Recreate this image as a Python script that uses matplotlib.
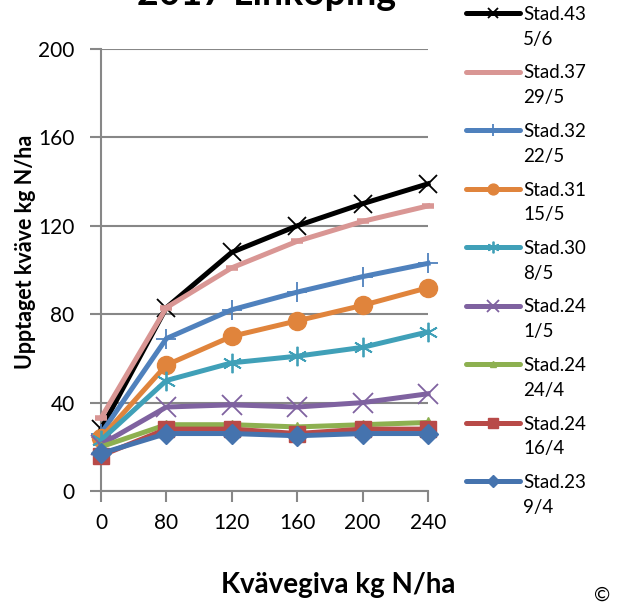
import matplotlib
matplotlib.use('Agg')
import matplotlib.pyplot as plt
from matplotlib.lines import Line2D

plt.rcParams['font.family'] = ['Lato', 'DejaVu Sans']

# data (kg N/ha taken up)
categories = ['0', '80', '120', '160', '200', '240']
stad43 = [28, 83, 108, 120, 130, 139]
stad37 = [33, 83, 101, 113, 122, 129]
stad32 = [26, 69, 82, 90, 97, 103]
stad31 = [24, 57, 70, 77, 84, 92]
stad30 = [23, 50, 58, 61, 65, 72]
stad24_1_5 = [21, 38, 39, 38, 40, 44]
stad24_24_4 = [20, 30, 30, 29, 30, 31]
stad24_16_4 = [16, 28, 28, 26, 28, 28]
stad23 = [17, 26, 26, 25, 26, 26]
yticks = [0, 40, 80, 120, 160, 200]

labels = ['Stad.43\n5/6', 'Stad.37\n29/5', 'Stad.32\n22/5', 'Stad.31\n15/5',
          'Stad.30\n8/5', 'Stad.24\n1/5', 'Stad.24\n24/4', 'Stad.24\n16/4',
          'Stad.23\n9/4']
series = [stad43, stad37, stad32, stad31, stad30, stad24_1_5, stad24_24_4,
          stad24_16_4, stad23]
# (colour, marker, marker size, marker edge width)
styles = [
    ('#000000', 'x', 13, 1.3),
    ('#D99694', '_', 8, 4.0),
    ('#4F81BD', '+', 14, 1.3),
    ('#E0843C', 'o', 13, 1.0),
    ('#40A0B8', (6, 2, 0), 14, 1.3),
    ('#7F62A0', 'x', 14, 1.3),
    ('#8DB050', '^', 7, 1.0),
    ('#B84A48', 's', 12, 1.0),
    ('#4573AE', 'D', 10, 1.0),
]

fig = plt.figure(figsize=(6.38, 6.06), dpi=100)
ax = fig.add_axes([101 / 638, 1 - 491 / 606, (428 - 101) / 638, (491 - 49) / 606])

x = list(range(len(categories)))
for i, (vals, (col, mk, ms, mew)) in enumerate(zip(series, styles)):
    ax.plot(x, vals, color=col, lw=3.6, marker=mk, markersize=ms,
            markeredgewidth=mew, markeredgecolor=col, markerfacecolor=col,
            clip_on=False, zorder=3 + i, solid_joinstyle='miter')

ax.set_xlim(0, len(categories) - 1)
ax.set_ylim(0, 200)
ax.set_xticks(x)
ax.set_xticklabels(categories)
ax.set_yticks(yticks)
ax.yaxis.grid(True, color='#878787', lw=1.5)
ax.set_axisbelow(True)
for s in ['top', 'right']:
    ax.spines[s].set_visible(False)
for s in ['left', 'bottom']:
    ax.spines[s].set_color('#878787')
    ax.spines[s].set_linewidth(1.5)
ax.tick_params(axis='both', colors='#878787', width=1.5, length=8,
               labelsize=15, labelcolor='black')
ax.tick_params(axis='y', pad=11)
ax.tick_params(axis='x', pad=8)

fig.text(267 / 638, 1 - 5 / 606, '2017 Linköping', ha='center', va='baseline',
         fontsize=27, fontweight='bold')
fig.text(25 / 638, 1 - 252 / 606, 'Upptaget kväve kg N/ha', rotation=90,
         ha='center', va='center', fontsize=15.5, fontweight='bold')
fig.text(338 / 638, 1 - 585 / 606, 'Kvävegiva kg N/ha', ha='center',
         va='center', fontsize=20, fontweight='bold')
fig.text(602 / 638, 1 - 595 / 606, '©', ha='center', va='center', fontsize=14)

# legend drawn by hand so the line sits beside the first text line
for i, (lab, (col, mk, ms, mew)) in enumerate(zip(labels, styles)):
    y = 1 - (13 + i * 58.5) / 606
    fig.add_artist(Line2D([466 / 638, 520 / 638], [y, y], transform=fig.transFigure,
                          color=col, lw=3.6, solid_capstyle='round'))
    if mk != '_':
        fig.add_artist(Line2D([493 / 638], [y], transform=fig.transFigure, color=col,
                              marker=mk, markersize=ms * 0.6, markeredgewidth=mew,
                              markerfacecolor=col, markeredgecolor=col))
    fig.text(523 / 638, y + 7 / 606, lab, ha='left', va='top', fontsize=13.5,
             linespacing=1.55, transform=fig.transFigure)

fig.savefig('out.png', dpi=100)
